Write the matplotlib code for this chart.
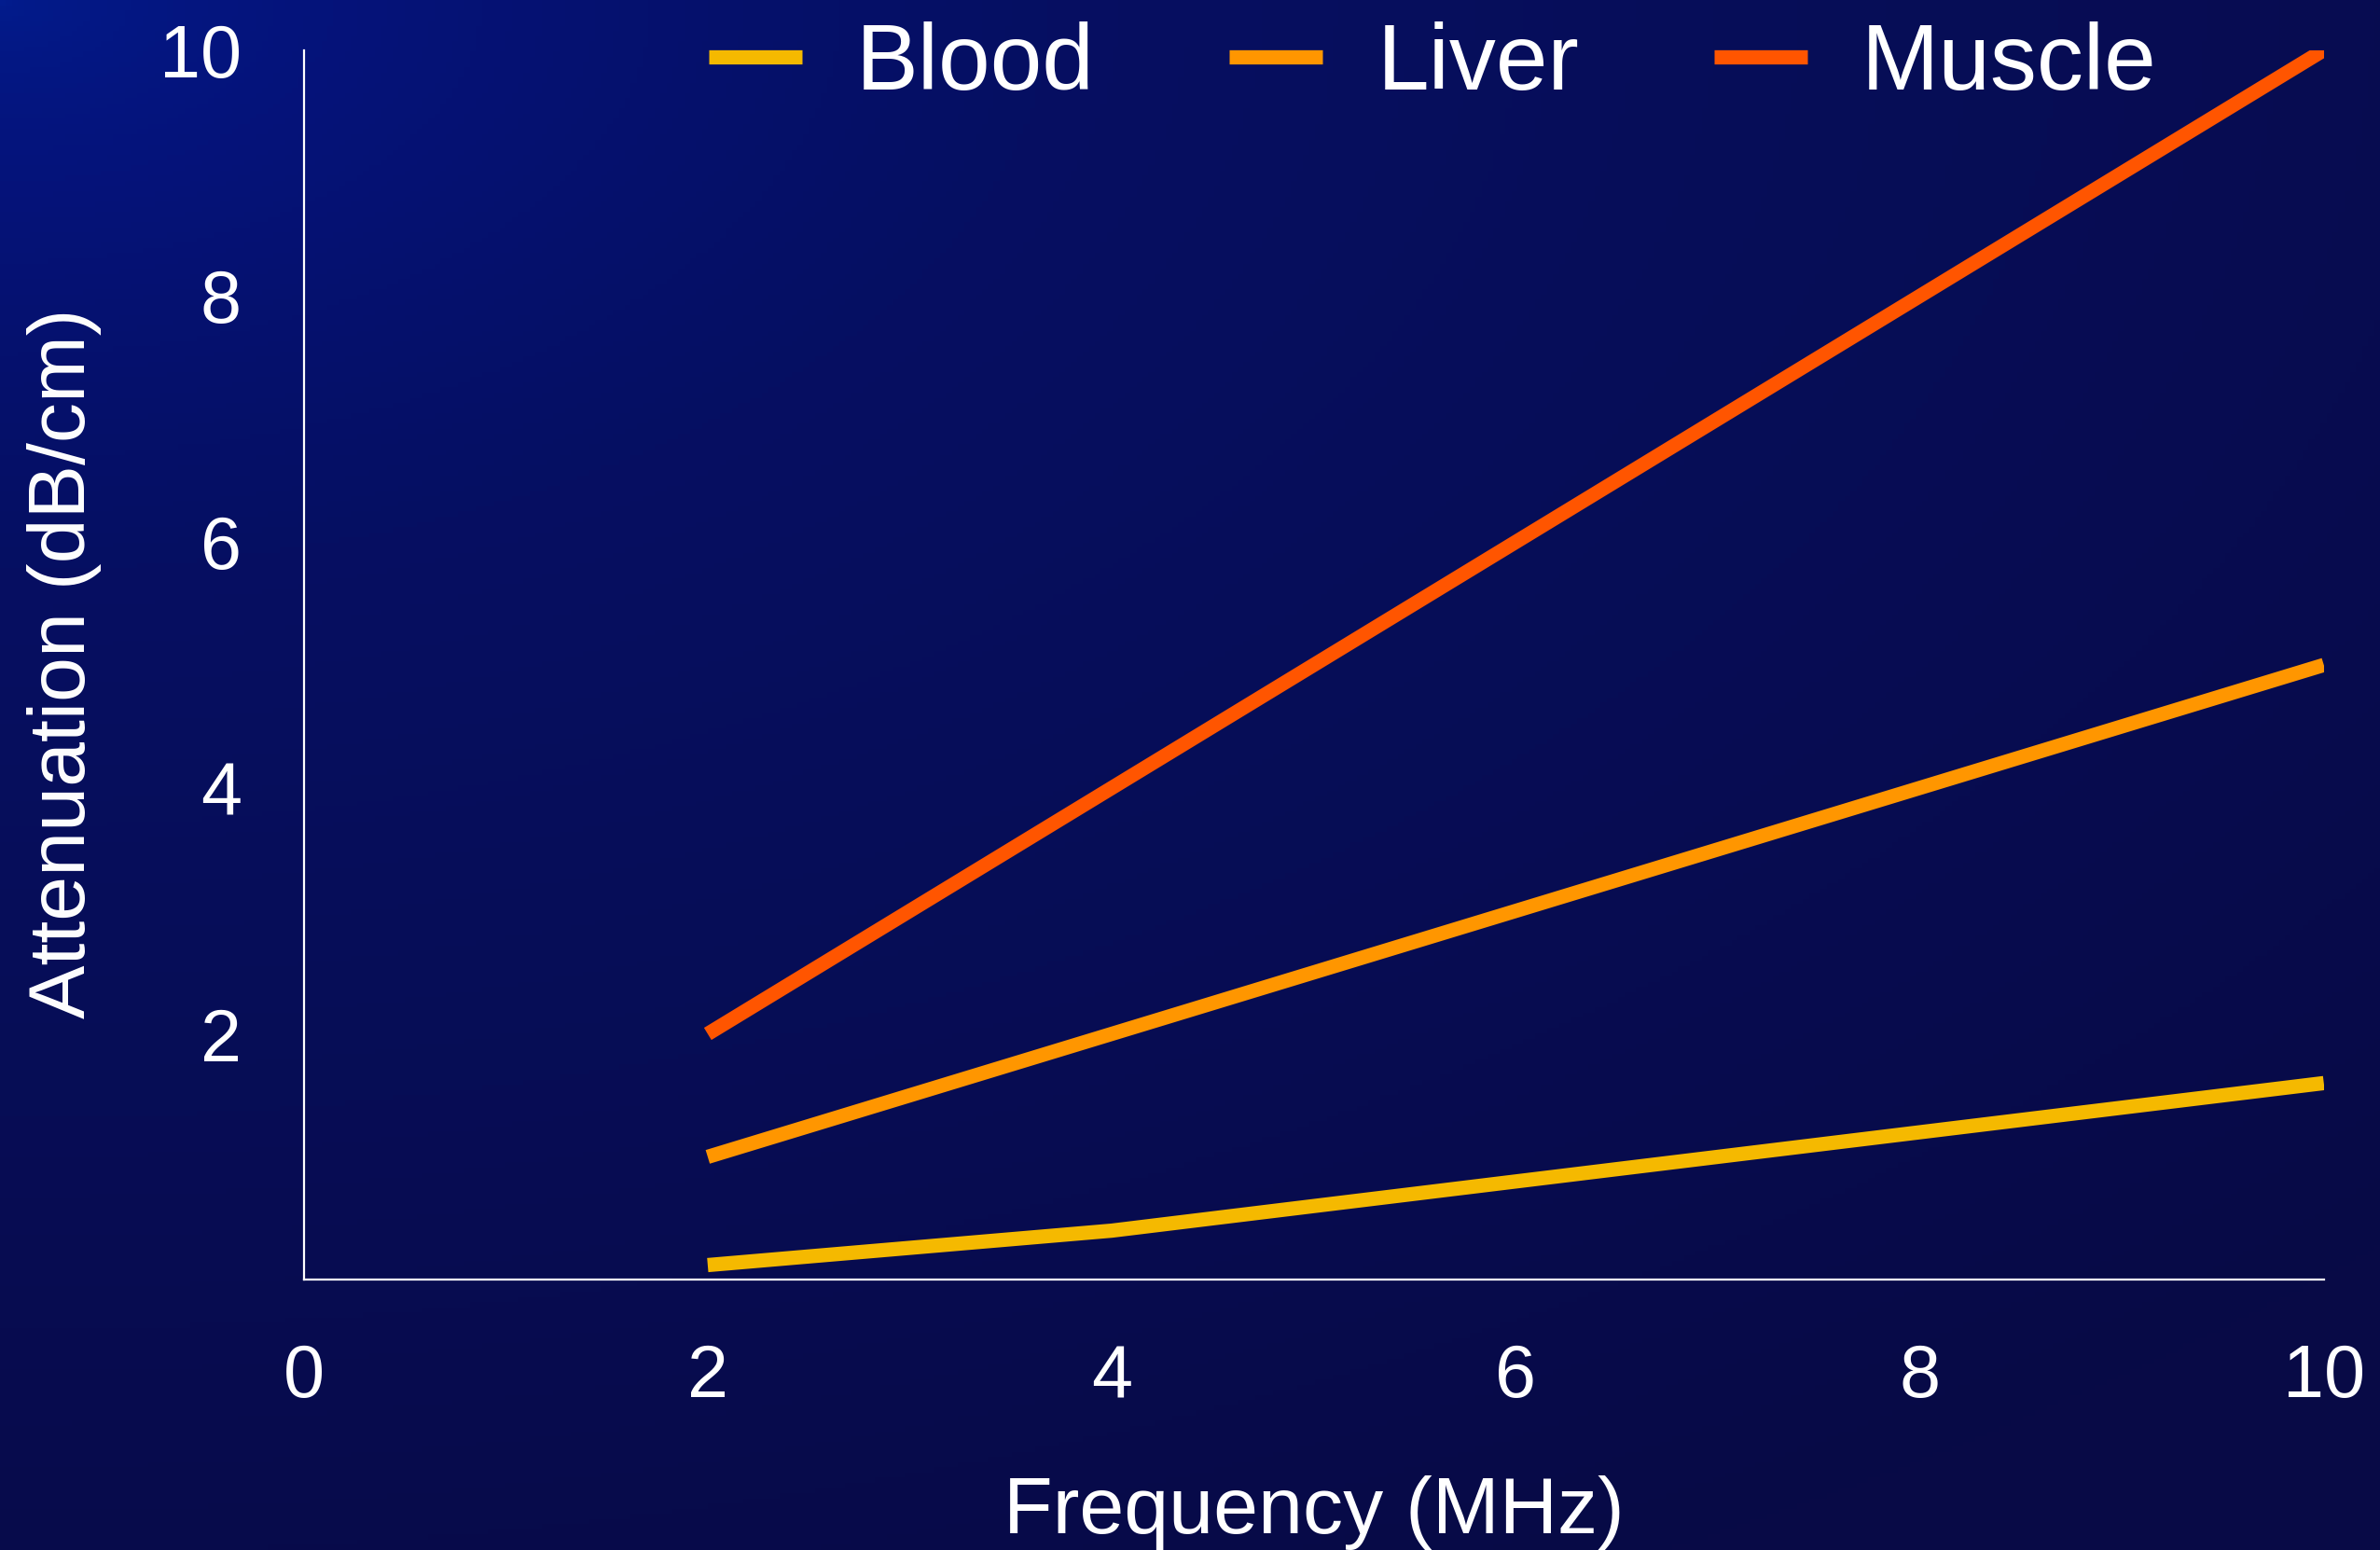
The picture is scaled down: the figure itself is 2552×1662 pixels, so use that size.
import numpy as np
import matplotlib
matplotlib.use("Agg")
import matplotlib.pyplot as plt
from matplotlib.colors import LinearSegmentedColormap

# data
freq = [2, 4, 6, 8, 10]
blood = [0.12, 0.40, 0.80, 1.20, 1.60]
liver = [1.0, 2.0, 3.0, 4.0, 5.0]
muscle = [2.0, 4.0, 6.0, 8.0, 10.0]

series = [("Blood", blood, "#F5B900"),
          ("Liver", liver, "#FF9600"),
          ("Muscle", muscle, "#FF5500")]

x_ticks = [0, 2, 4, 6, 8, 10]
y_ticks = [2, 4, 6, 8, 10]

fonts = ["Liberation Sans", "DejaVu Sans"]

fig = plt.figure(figsize=(25.52, 16.62), dpi=100)

# diagonal background gradient
bg = fig.add_axes([0, 0, 1, 1], zorder=-10)
gx, gy = np.meshgrid(np.linspace(0, 1, 400), np.linspace(0, 1, 300))
d = np.sqrt((gx * 1.0) ** 2 + (gy * 1.2) ** 2)
t = np.clip(d / 1.4, 0, 1) ** 0.6
cmap = LinearSegmentedColormap.from_list(
    "bg", ["#021c8e", "#05137a", "#060f62", "#070d55", "#080a46"])
bg.imshow(t, cmap=cmap, aspect="auto", extent=[0, 1, 0, 1], origin="upper")
bg.axis("off")

ax = fig.add_axes([0.1276, 0.1743, 0.8488, 0.7934])
ax.patch.set_alpha(0)

for name, vals, col in series:
    ax.plot(freq, vals, color=col, lw=11, solid_capstyle="butt", label=name)

ax.set_xlim(0, 10)
ax.set_ylim(0, 10)
ax.set_xticks(x_ticks)
ax.set_yticks(y_ticks)
ax.tick_params(length=0, colors="white", labelsize=57)
ax.tick_params(axis="x", pad=49)
ax.tick_params(axis="y", pad=48)
for lab in ax.get_xticklabels() + ax.get_yticklabels():
    lab.set_family(fonts)
    lab.set_color("white")

for s in ["top", "right"]:
    ax.spines[s].set_visible(False)
for s in ["left", "bottom"]:
    ax.spines[s].set_color("white")
    ax.spines[s].set_linewidth(1.6)

fig.text(0.552, 0.024, "Frequency (MHz)", color="white", fontsize=62,
         family=fonts, ha="center", va="center")
fig.text(0.027, 0.572, "Attenuation (dB/cm)", color="white", fontsize=62,
         family=fonts, ha="center", va="center", rotation=90)

leg = fig.legend(loc="center", bbox_to_anchor=(0.602, 0.958), ncol=3,
                 frameon=False, handlelength=1.0, handletextpad=0.58,
                 columnspacing=1.45, prop={"family": fonts, "size": 72})
for txt in leg.get_texts():
    txt.set_color("white")

fig.savefig("out.png", dpi=100)
